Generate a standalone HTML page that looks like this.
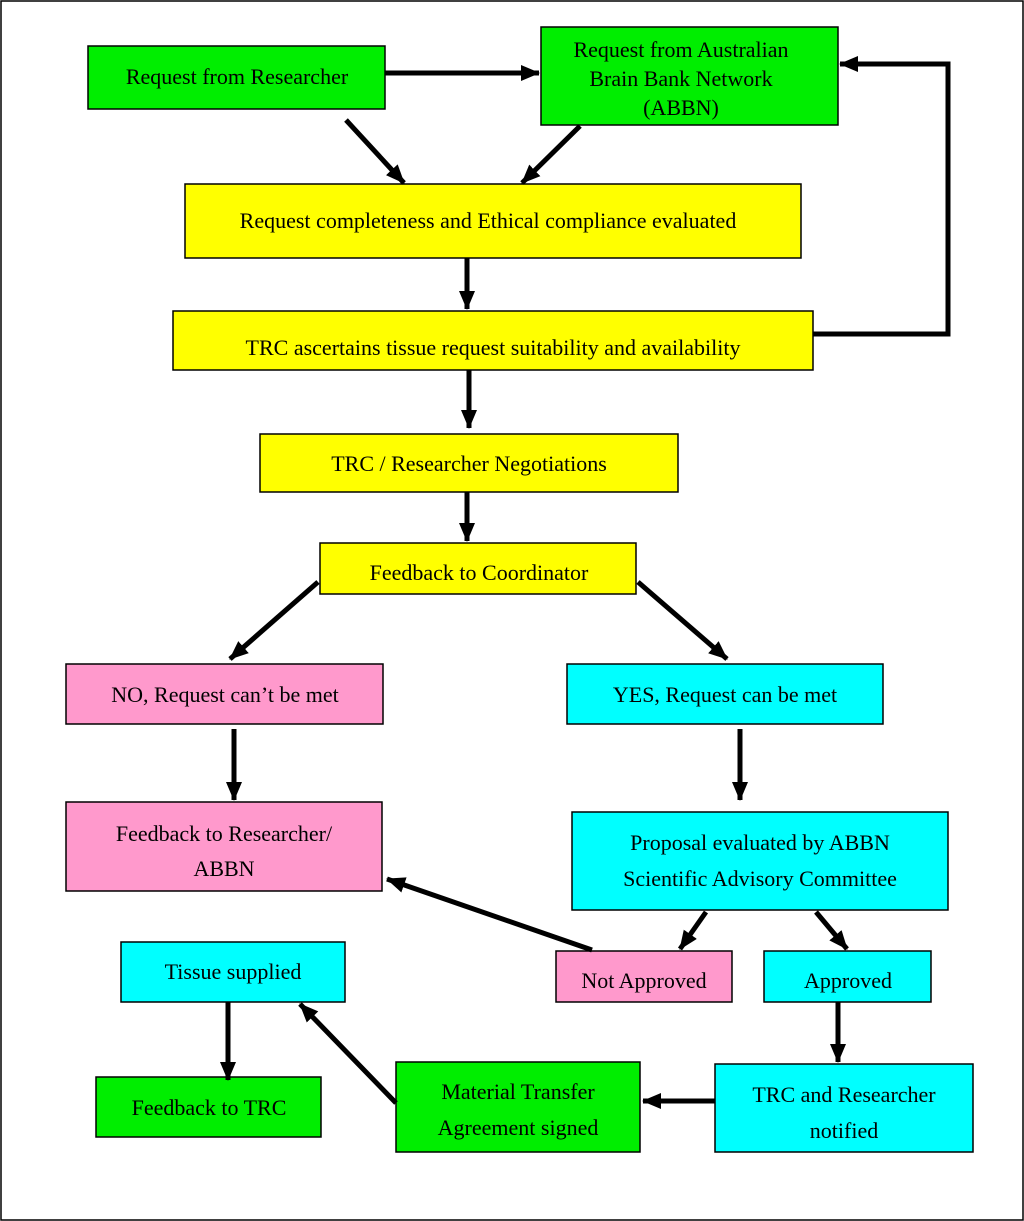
<!DOCTYPE html>
<html><head><meta charset="utf-8"><style>
html,body{margin:0;padding:0;background:#fff}
svg{display:block}
text{font-family:"Liberation Serif",serif;font-size:22px;fill:#000}
rect{stroke:#000;stroke-width:1.5}
</style></head><body>
<svg width="1024" height="1221" viewBox="0 0 1024 1221" xmlns="http://www.w3.org/2000/svg">
<defs><marker id="a" markerWidth="4" markerHeight="4" refX="3.6" refY="2" orient="auto" markerUnits="strokeWidth"><path d="M0,0.4 L3.8,2 L0,3.6 Z" fill="#000"/></marker></defs>
<rect x="1" y="1" width="1022" height="1219" fill="#fff" stroke-width="2"/>
<g>
<rect x="88" y="46" width="297" height="63" fill="#00ee00"/>
<rect x="541" y="27" width="297" height="98" fill="#00ee00"/>
<rect x="185" y="184" width="616" height="74" fill="#ffff00"/>
<rect x="173" y="311" width="640" height="59" fill="#ffff00"/>
<rect x="260" y="434" width="418" height="58" fill="#ffff00"/>
<rect x="320" y="543" width="316" height="51" fill="#ffff00"/>
<rect x="66" y="664" width="317" height="60" fill="#ff99cc"/>
<rect x="567" y="664" width="316" height="60" fill="#00ffff"/>
<rect x="66" y="802" width="316" height="89" fill="#ff99cc"/>
<rect x="572" y="812" width="376" height="98" fill="#00ffff"/>
<rect x="121" y="942" width="224" height="60" fill="#00ffff"/>
<rect x="556" y="951" width="176" height="51" fill="#ff99cc"/>
<rect x="764" y="951" width="167" height="51" fill="#00ffff"/>
<rect x="96" y="1077" width="225" height="60" fill="#00ee00"/>
<rect x="396" y="1062" width="244" height="90" fill="#00ee00"/>
<rect x="715" y="1064" width="258" height="88" fill="#00ffff"/>
</g>
<g text-anchor="middle">
<text x="237" y="84">Request from Researcher</text>
<text x="681" y="57">Request from Australian</text>
<text x="681" y="86">Brain Bank Network</text>
<text x="681" y="115">(ABBN)</text>
<text x="488" y="228">Request completeness and Ethical compliance evaluated</text>
<text x="493" y="355">TRC ascertains tissue request suitability and availability</text>
<text x="469" y="471">TRC / Researcher Negotiations</text>
<text x="479" y="580">Feedback to Coordinator</text>
<text x="225" y="702">NO, Request can’t be met</text>
<text x="725" y="702">YES, Request can be met</text>
<text x="224" y="841">Feedback to Researcher/</text>
<text x="224" y="876">ABBN</text>
<text x="760" y="850">Proposal evaluated by ABBN</text>
<text x="760" y="886">Scientific Advisory Committee</text>
<text x="233" y="979">Tissue supplied</text>
<text x="644" y="988">Not Approved</text>
<text x="848" y="988">Approved</text>
<text x="209" y="1115">Feedback to TRC</text>
<text x="518" y="1099">Material Transfer</text>
<text x="518" y="1135">Agreement signed</text>
<text x="844" y="1102">TRC and Researcher</text>
<text x="844" y="1138">notified</text>
</g>
<g stroke="#000" stroke-width="5" fill="none" marker-end="url(#a)">
<line x1="385" y1="73" x2="539" y2="73"/>
<line x1="346" y1="120" x2="404" y2="183"/>
<line x1="580" y1="126" x2="522" y2="183"/>
<line x1="467" y1="258" x2="467" y2="309"/>
<polyline points="813,334 948,334 948,64 840,64"/>
<line x1="469" y1="370" x2="469" y2="428"/>
<line x1="467" y1="492" x2="467" y2="541"/>
<line x1="318" y1="582" x2="230" y2="659"/>
<line x1="638" y1="582" x2="727" y2="659"/>
<line x1="234" y1="729" x2="234" y2="800"/>
<line x1="740" y1="729" x2="740" y2="800"/>
<line x1="592" y1="950" x2="387" y2="879"/>
<line x1="706" y1="912" x2="680" y2="949"/>
<line x1="816" y1="912" x2="847" y2="949"/>
<line x1="838" y1="1002" x2="838" y2="1062"/>
<line x1="715" y1="1101" x2="643" y2="1101"/>
<line x1="396" y1="1103" x2="300" y2="1004"/>
<line x1="228" y1="1002" x2="228" y2="1080"/>
</g>
</svg>
</body></html>
